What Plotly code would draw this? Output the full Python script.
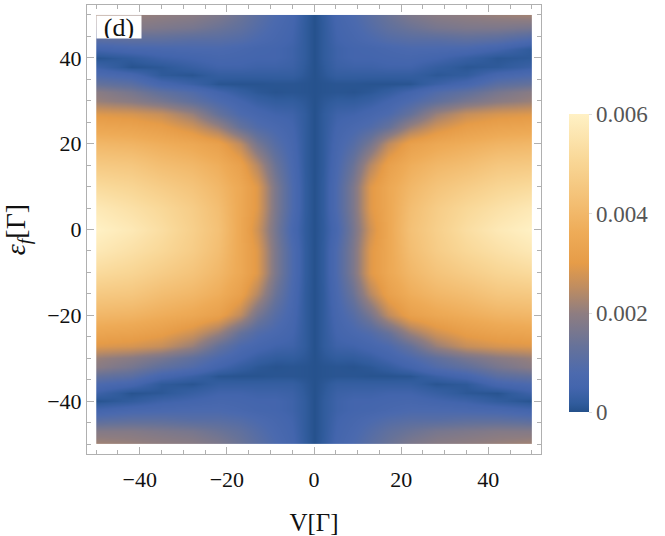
import numpy as np
import plotly.graph_objects as go

# Bias voltage V (columns) and level energy eps_f (rows), in units of Gamma
V_vals = [-50, -42, -35, -28, -22, -17, -13, -9, -5, -2, 0, 2, 5, 9, 13, 17, 22, 28, 35, 42, 50]
eps_vals = [-50, -47, -44, -42, -40, -38, -36, -34, -32, -30, -27, -24, -20, -15, -10, -5,
            0, 5, 10, 15, 20, 24, 27, 30, 32, 34, 36, 38, 40, 42, 44, 47, 50]

# values, in units of 1e-4 (one row per eps value, ascending)
z_e4 = [
    [22, 21, 20, 19, 17, 14, 11, 8, 5.5, 2, 0.3, 2, 5.5, 8, 11, 14, 17, 19, 20, 21, 22],              # -50
    [18, 18, 17, 16, 14, 12, 9.5, 7, 5, 1.8, 0.3, 1.8, 5, 7, 9.5, 12, 14, 16, 17, 18, 18],            # -47
    [10, 11, 11, 10, 10, 9, 7.5, 6, 4.5, 1.8, 0.3, 1.8, 4.5, 6, 7.5, 9, 10, 10, 11, 11, 10],          # -44
    [5, 6.5, 7, 7.5, 7.5, 6.5, 5.5, 5, 4, 1.8, 0.3, 1.8, 4, 5, 5.5, 6.5, 7.5, 7.5, 7, 6.5, 5],        # -42
    [0.6, 2, 4, 5, 6, 5.5, 5, 5, 4, 1.8, 0.3, 1.8, 4, 5, 5, 5.5, 6, 5, 4, 2, 0.6],                    # -40
    [4, 0.6, 1.2, 3, 4.5, 4.5, 4, 4, 3.5, 1.5, 0.3, 1.5, 3.5, 4, 4, 4.5, 4.5, 3, 1.2, 0.6, 4],        # -38
    [8, 6, 1.5, 0.8, 2.5, 2.5, 2.5, 2.5, 2.5, 1.2, 0.3, 1.2, 2.5, 2.5, 2.5, 2.5, 2.5, 0.8, 1.5, 6, 8],  # -36
    [13, 11, 6, 3.5, 0.8, 0.6, 0.6, 0.8, 0.8, 0.6, 0.3, 0.6, 0.8, 0.8, 0.6, 0.6, 0.8, 3.5, 6, 11, 13],  # -34
    [19, 16, 12, 9, 5, 2.5, 1.2, 0.6, 0.8, 0.6, 0.3, 0.6, 0.8, 0.6, 1.2, 2.5, 5, 9, 12, 16, 19],      # -32
    [21, 19, 16, 12, 8, 5, 3, 2, 2, 1.2, 0.3, 1.2, 2, 2, 3, 5, 8, 12, 16, 19, 21],                    # -30
    [29, 28, 26, 21, 13, 8, 6, 4.5, 4, 1.8, 0.3, 1.8, 4, 4.5, 6, 8, 13, 21, 26, 28, 29],              # -27
    [34, 33, 31, 27, 21, 13, 9, 7, 5, 1.8, 0.3, 1.8, 5, 7, 9, 13, 21, 27, 31, 33, 34],                # -24
    [40, 39, 37, 35, 32, 25, 16, 10, 6, 1.8, 0.3, 1.8, 6, 10, 16, 25, 32, 35, 37, 39, 40],            # -20
    [46, 45, 42, 40, 37, 32, 24, 14, 7, 1.8, 0.3, 1.8, 7, 14, 24, 32, 37, 40, 42, 45, 46],            # -15
    [52, 50, 47, 44, 40, 35, 29, 17, 8, 2, 0.3, 2, 8, 17, 29, 35, 40, 44, 47, 50, 52],                # -10
    [57, 54, 51, 47, 42, 35, 29, 17, 8, 2, 0.3, 2, 8, 17, 29, 35, 42, 47, 51, 54, 57],                # -5
    [60, 57, 53, 48, 43, 35, 27, 16, 6.5, 1.8, 0.3, 1.8, 6.5, 16, 27, 35, 43, 48, 53, 57, 60],        # 0
    [57, 54, 51, 47, 42, 35, 29, 17, 8, 2, 0.3, 2, 8, 17, 29, 35, 42, 47, 51, 54, 57],                # 5
    [52, 50, 47, 44, 40, 35, 29, 17, 8, 2, 0.3, 2, 8, 17, 29, 35, 40, 44, 47, 50, 52],                # 10
    [46, 45, 42, 40, 37, 32, 24, 14, 7, 1.8, 0.3, 1.8, 7, 14, 24, 32, 37, 40, 42, 45, 46],            # 15
    [40, 39, 37, 35, 32, 25, 16, 10, 6, 1.8, 0.3, 1.8, 6, 10, 16, 25, 32, 35, 37, 39, 40],            # 20
    [34, 33, 31, 27, 21, 13, 9, 7, 5, 1.8, 0.3, 1.8, 5, 7, 9, 13, 21, 27, 31, 33, 34],                # 24
    [29, 28, 26, 21, 13, 8, 6, 4.5, 4, 1.8, 0.3, 1.8, 4, 4.5, 6, 8, 13, 21, 26, 28, 29],              # 27
    [21, 19, 16, 12, 8, 5, 3, 2, 2, 1.2, 0.3, 1.2, 2, 2, 3, 5, 8, 12, 16, 19, 21],                    # 30
    [19, 16, 12, 9, 5, 2.5, 1.2, 0.6, 0.8, 0.6, 0.3, 0.6, 0.8, 0.6, 1.2, 2.5, 5, 9, 12, 16, 19],      # 32
    [13, 11, 6, 3.5, 0.8, 0.6, 0.6, 0.8, 0.8, 0.6, 0.3, 0.6, 0.8, 0.8, 0.6, 0.6, 0.8, 3.5, 6, 11, 13],  # 34
    [8, 6, 1.5, 0.8, 2.5, 2.5, 2.5, 2.5, 2.5, 1.2, 0.3, 1.2, 2.5, 2.5, 2.5, 2.5, 2.5, 1.2, 2, 6, 8],  # 36
    [4, 0.6, 1.2, 3, 4.5, 4.5, 4, 4, 3.5, 1.5, 0.3, 1.5, 3.5, 4, 4, 4.5, 4.5, 2.5, 1, 1.5, 3.5],      # 38
    [0.6, 2, 4, 5, 6, 5.5, 5, 5, 4, 1.8, 0.3, 1.8, 4, 5, 5, 5.5, 6, 5, 3, 1, 1.5],                    # 40
    [5, 6.5, 7, 7.5, 7.5, 6.5, 5.5, 5, 4, 1.8, 0.3, 1.8, 4, 5, 5.5, 6.5, 7.5, 7.5, 7, 5, 1.5],        # 42
    [10, 11, 11, 10, 10, 9, 7.5, 6, 4.5, 1.8, 0.3, 1.8, 4.5, 6, 7.5, 9, 10, 10, 11, 10, 7],           # 44
    [18, 18, 17, 16, 14, 12, 9.5, 7, 5, 1.8, 0.3, 1.8, 5, 7, 9.5, 12, 14, 16, 17, 17, 16],            # 47
    [22, 21, 20, 19, 17, 14, 11, 8, 5.5, 2, 0.3, 2, 5.5, 8, 11, 14, 17, 19, 20, 21, 22],              # 50
]

cbar_vals = [0, 0.002, 0.004, 0.006]
cbar_text = ["0", "0.002", "0.004", "0.006"]
x_ticks = [-40, -20, 0, 20, 40]
y_ticks = [-40, -20, 0, 20, 40]

colorscale = [
    [0.0, "#24508a"],
    [0.03, "#315c9d"],
    [0.08, "#4365ad"],
    [0.13, "#4c6aae"],
    [0.22, "#66729a"],
    [0.33, "#8e7d81"],
    [0.42, "#c08d60"],
    [0.5, "#e69c48"],
    [0.6, "#eeab57"],
    [0.7, "#f3be72"],
    [0.85, "#f9d898"],
    [1.0, "#fff1c5"],
]

Z = np.array(z_e4) * 1e-4

W, H = 665, 536
ML, MR, MT, MB = 87, 124, 4, 81
XPAD, YPAD = 2.1, 2.3
xr = [-50 - XPAD, 50 + XPAD]
yr = [-50 - YPAD, 50 + YPAD]
xdom = [XPAD / (100 + 2 * XPAD), 1 - XPAD / (100 + 2 * XPAD)]
ydom = [YPAD / (100 + 2 * YPAD), 1 - YPAD / (100 + 2 * YPAD)]

FONT = "Liberation Serif"
GRID = "#b0b0b0"

fig = go.Figure()
fig.add_trace(go.Heatmap(
    x=V_vals, y=eps_vals, z=Z,
    zmin=0, zmax=0.006, zsmooth="best",
    colorscale=colorscale,
    xaxis="x", yaxis="y",
    colorbar=dict(
        x=(569 - ML) / (W - ML - MR), xanchor="left",
        y=(H - MB - 263.5) / (H - MT - MB), yanchor="middle",
        len=299 / (H - MT - MB), lenmode="fraction",
        thickness=20, thicknessmode="pixels",
        xpad=0, ypad=0, outlinewidth=0,
        tickvals=cbar_vals, ticktext=cbar_text,
        ticks="outside", ticklen=3, tickcolor="#dddddd",
        tickfont=dict(family=FONT, size=23, color="#555555"),
    ),
    hoverinfo="skip",
))
fig.add_trace(go.Scatter(x=[0], y=[0], xaxis="x2", yaxis="y2", mode="markers",
                         marker=dict(opacity=0), showlegend=False, hoverinfo="skip"))

axis_common = dict(
    showline=True, linecolor=GRID, linewidth=1, mirror="ticks",
    ticks="inside", ticklen=7, tickcolor=GRID, tickwidth=1,
    minor=dict(dtick=5, ticks="inside", ticklen=4, tickcolor=GRID, tickwidth=1),
    showgrid=False, zeroline=False,
    tickfont=dict(family=FONT, size=22, color="#111111"),
)

fig.update_layout(
    width=W, height=H,
    margin=dict(l=ML, r=MR, t=MT, b=MB),
    paper_bgcolor="white", plot_bgcolor="rgba(0,0,0,0)",
    showlegend=False,
    font=dict(family=FONT),
    xaxis=dict(domain=xdom, range=[-50, 50], visible=False, anchor="y"),
    yaxis=dict(domain=ydom, range=[-50, 50], visible=False, anchor="x"),
    xaxis2=dict(domain=[0, 1], range=xr, anchor="y2", tickvals=x_ticks, ticklabelstandoff=6,
                title=dict(text="V[Γ]", font=dict(family=FONT, size=25, color="#111111"), standoff=22),
                **axis_common),
    yaxis2=dict(domain=[0, 1], range=yr, anchor="x2", tickvals=y_ticks,
                title=dict(text="<i>ε</i><sub><i>f</i></sub>[Γ]", font=dict(family=FONT, size=28, color="#111111"), standoff=16),
                **axis_common),
    annotations=[dict(
        x=-50, y=50, xref="x", yref="y", xanchor="left", yanchor="top",
        text="(d)", showarrow=False, bgcolor="white",
        width=44, height=22, borderpad=0,
        font=dict(family=FONT, size=26, color="#111111"),
    )],
)

fig.write_html("out.html")
